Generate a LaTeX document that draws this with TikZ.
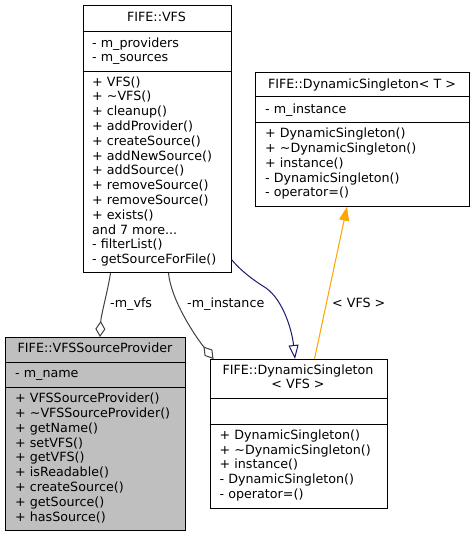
\documentclass[tikz,border=0pt]{standalone}
\usepackage{fontspec}
\setmainfont{DejaVu Sans}
\usetikzlibrary{arrows.meta}
\definecolor{navyc}{HTML}{191970}
\definecolor{orngc}{HTML}{FFA500}
\definecolor{edgegray}{HTML}{404040}
\definecolor{boxgray}{HTML}{BFBFBF}
\newcommand\mymoredots{...}
\begin{document}
\begin{tikzpicture}[x=1pt,y=-1pt,
  classbox/.style={draw=black, line width=1pt, inner sep=0pt, anchor=north west},
  sepline/.style={draw=black, line width=1pt},
  lbl/.style={anchor=base west, inner sep=0pt, font=\fontsize{12.7}{14.8}\selectfont},
  ttl/.style={anchor=base, inner sep=0pt, font=\fontsize{12.7}{14.8}\selectfont},
  aggr/.style={draw=edgegray, line width=1pt, {Diamond[open,length=16pt,width=10pt]}-},
  inh/.style={draw=navyc, line width=1pt, -{Triangle[open,length=14pt,width=10pt]}},
  tmpl/.style={draw=orngc, line width=1pt, -{Triangle[length=14pt,width=10pt]}, fill=orngc}]
\useasboundingbox (0,0) rectangle (474,536);

% ---------- FIFE::VFS ----------
\node[classbox, minimum width=148pt, minimum height=267pt] (vfs) at (82.5,5) {};
\draw[sepline] (vfs.west |- 0,31) -- (vfs.east |- 0,31);
\draw[sepline] (vfs.west |- 0,71) -- (vfs.east |- 0,71);
\node[ttl] (vfst) at (156.5,{17.6+4.3}) {FIFE::VFS};
\node[lbl] (vfsa0) at (92,{42.7+4.3}) {- m\_providers};
\node[lbl] (vfsa1) at (92,{57.3+4.3}) {- m\_sources};
\foreach \t [count=\i from 0] in {+ VFS(),+ \textasciitilde VFS(),+ cleanup(),+ addProvider(),+ createSource(),+ addNewSource(),+ addSource(),+ removeSource(),+ removeSource(),+ exists(),and 7 more\mymoredots,- filterList(),- getSourceForFile()}
  \node[lbl, name=vfsm\i] at (92,{81.7+\i*14.8+4.3}) {\t};

% ---------- FIFE::VFSSourceProvider ----------
\node[classbox, fill=boxgray, minimum width=180pt, minimum height=192.5pt] (vsp) at (5,337) {};
\draw[sepline] (vsp.west |- 0,362) -- (vsp.east |- 0,362);
\draw[sepline] (vsp.west |- 0,387.5) -- (vsp.east |- 0,387.5);
\node[ttl] (vspt) at (95,{348.5+4.3}) {FIFE::VFSSourceProvider};
\node[lbl] (vspa0) at (15,{373.3+4.3}) {- m\_name};
\foreach \t [count=\i from 0] in {+ VFSSourceProvider(),+ \textasciitilde VFSSourceProvider(),+ getName(),+ setVFS(),+ getVFS(),+ isReadable(),+ createSource(),+ getSource(),+ hasSource()}
  \node[lbl, name=vspm\i] at (15,{398.3+\i*14.8+4.3}) {\t};

% ---------- FIFE::DynamicSingleton< VFS > ----------
\node[classbox, fill=white, minimum width=177pt, minimum height=148.7pt] (dsv) at (209.5,359) {};
\draw[sepline] (dsv.west |- 0,398.3) -- (dsv.east |- 0,398.3);
\draw[sepline] (dsv.west |- 0,424) -- (dsv.east |- 0,424);
\node[ttl] (dsvt0) at (298,{370+4.3}) {FIFE::DynamicSingleton};
\node[ttl] (dsvt1) at (298,{384.3+4.3}) {< VFS >};
\foreach \t [count=\i from 0] in {+ DynamicSingleton(),+ \textasciitilde DynamicSingleton(),+ instance(),- DynamicSingleton(),- operator=()}
  \node[lbl, name=dsvm\i] at (219.5,{435+\i*14.8+4.3}) {\t};

% ---------- FIFE::DynamicSingleton< T > ----------
\node[classbox, minimum width=214pt, minimum height=134pt] (dst) at (255,71.7) {};
\draw[sepline] (dst.west |- 0,96.7) -- (dst.east |- 0,96.7);
\draw[sepline] (dst.west |- 0,122.3) -- (dst.east |- 0,122.3);
\node[ttl] (dstt) at (362,{84+4.3}) {FIFE::DynamicSingleton< T >};
\node[lbl] (dsta0) at (265,{109+4.3}) {- m\_instance};
\foreach \t [count=\i from 0] in {+ DynamicSingleton(),+ \textasciitilde DynamicSingleton(),+ instance(),- DynamicSingleton(),- operator=()}
  \node[lbl, name=dstm\i] at (265,{133.3+\i*14.8+4.3}) {\t};

% ---------- connectors ----------
\draw[aggr] ([xshift=95pt]vsp.north west) .. controls (101,315) and (108,290) .. ([xshift=28pt]vfs.south west);
\draw[aggr] ([xshift=4pt]dsv.north west) .. controls (195,336) and (171,300) .. ([xshift=86pt]vfs.south west);
\draw[inh] ([yshift=13.5pt]vfs.south east) .. controls (240,270) and (253,280) .. (266,288) .. controls (283,300) and (292,330) .. ([xshift=85.5pt]dsv.north west);
\draw[tmpl] ([xshift=105pt]dsv.north west) -- ([xshift=92pt]dst.south west);

% ---------- connector labels ----------
\node[lbl] (lvfs) at (110,{303.3+4.3}) {-m\_vfs};
\node[lbl] (linst) at (187,{303.3+4.3}) {-m\_instance};
\node[lbl] (ltmpl) at (332,{303.3+4.3}) {< VFS >};
\end{tikzpicture}
\end{document}
